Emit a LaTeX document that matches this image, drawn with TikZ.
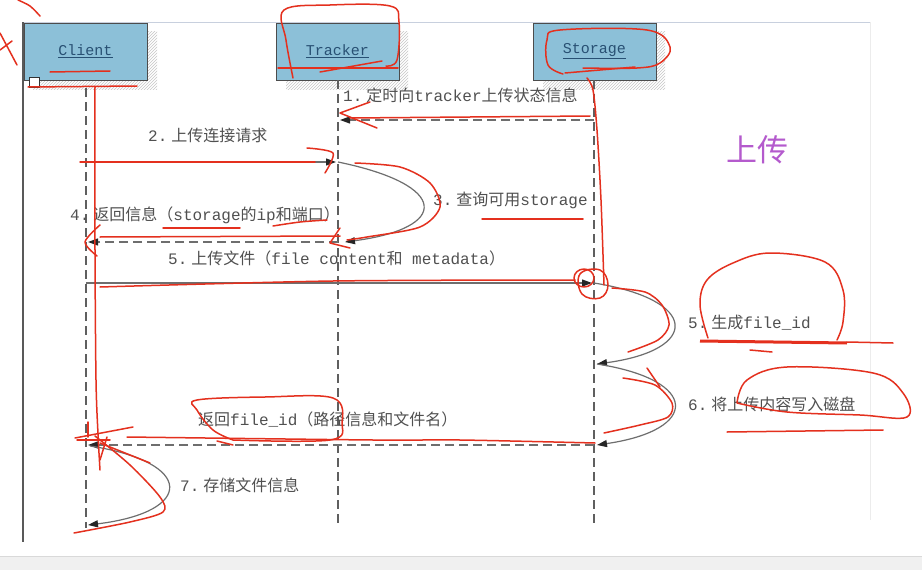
\documentclass[tikz,border=0pt]{standalone}
\usepackage{fontspec}
\setmainfont{Liberation Serif}
\newfontfamily\cjkfont{Noto Sans CJK SC}
\newfontfamily\monofont{Liberation Mono}
\newcommand\myzh[1]{{\cjkfont #1}}
\newcommand\myen[1]{{\monofont #1}}
\newcommand\mynum[1]{{\monofont #1.}\hspace{4pt}}
\usetikzlibrary{patterns,arrows.meta}
\definecolor{boxfill}{RGB}{140,192,216}
\definecolor{txtc}{RGB}{80,80,80}
\definecolor{lifec}{RGB}{95,95,95}
\definecolor{msgc}{RGB}{110,110,110}
\definecolor{redc}{RGB}{228,48,30}
\definecolor{purplec}{RGB}{180,90,205}
\definecolor{namec}{RGB}{40,80,115}
\definecolor{framec}{RGB}{200,208,222}
\tikzset{
  actor/.style={draw=black!70, line width=1pt, fill=boxfill, minimum width=123pt, minimum height=57pt, inner sep=0pt,
     font=\monofont\fontsize{15}{17}\selectfont, text=namec},
  shadowpat/.style={pattern=north east lines, pattern color=gray!45},
  lifeline/.style={draw=lifec, line width=1.4pt, dash pattern=on 9pt off 5pt},
  msgline/.style={draw=msgc, line width=1.2pt},
  retline/.style={draw=msgc, line width=1.2pt, dash pattern=on 9pt off 5pt},
  loopline/.style={draw=msgc, line width=1.2pt},
  tip/.style={-{Triangle[length=10pt,width=7pt,color=black!85]}},
  msg/.style={text=txtc, inner sep=0pt, font=\cjkfont\fontsize{16}{18}\selectfont},
  redpen/.style={draw=redc, line width=1.5pt, line cap=round, line join=round},
}
\begin{document}
\begin{tikzpicture}[x=1pt,y=-1pt]
\useasboundingbox (0,0) rectangle (922,570);
\fill[white] (0,0) rectangle (922,570);
% frame
\fill[gray!12] (0,556) rectangle (922,570);
\draw[gray!30, line width=0.8pt] (0,556) -- (922,556);
\draw[framec, line width=1pt] (22,22) -- (870,22);
\draw[gray!15, line width=0.8pt] (870,22) -- (870,520);
\draw[black!65, line width=1.2pt] (23,22) -- (23,542);
% shadows
\path[shadowpat] (33,31) rectangle (157,89);
\path[shadowpat] (286,31) rectangle (408,89);
\path[shadowpat] (543,31) rectangle (665,89);
% actors
\node[actor] (client) at (85.5,51.5) {\underline{Client}};
\node[actor] (tracker) at (337.5,51.5) {\underline{Tracker}};
\node[actor] (storage) at (594.5,51.5) {\underline{Storage}};
\node[draw=black!80, fill=white, line width=0.8pt, minimum size=10pt, inner sep=0pt] (sq) at (34,82) {};
% lifelines
\coordinate (ctop) at (86,88);
\coordinate (cend) at (86,528);
\coordinate (ttop) at (338,80);
\coordinate (tend) at (338,525);
\coordinate (stop) at (594,80);
\coordinate (send) at (594,525);
\draw[lifeline] (ctop) -- (cend);
\draw[lifeline] (ttop) -- (tend);
\draw[lifeline] (stop) -- (send);
% message points
\coordinate (s1) at (594,120); \coordinate (t1) at (340,120);
\coordinate (c2) at (86,162); \coordinate (t2) at (336,162);
\coordinate (t2b) at (338,162); \coordinate (t3) at (345,242);
\coordinate (t4) at (338,242); \coordinate (c4) at (88,242);
\coordinate (c5) at (86,283); \coordinate (s5) at (592,283);
\coordinate (s5b) at (594,283); \coordinate (s6) at (597,364);
\coordinate (s6b) at (597,364); \coordinate (s7) at (597,445);
\coordinate (s8) at (594,445); \coordinate (c8) at (88,445);
\coordinate (c9a) at (90,446); \coordinate (c9) at (88,525);
% messages
\draw[retline, tip] (s1) -- (t1);
\draw[msgline, tip] (c2) -- (t2);
\draw[loopline, tip] (t2b) .. controls (450,185) and (450,228) .. (t3);
\draw[retline, tip] (t4) -- (c4);
\draw[msgline, tip] (c5) -- (s5);
\draw[loopline, tip] (s5b) .. controls (700,300) and (700,350) .. (s6);
\draw[loopline, tip] (s6b) .. controls (700,380) and (700,430) .. (s7);
\draw[retline, tip] (s8) -- (c8);
\draw[loopline, tip] (c9a) .. controls (195,462) and (195,512) .. (c9);
% labels
\node[msg, anchor=west] (l1) at (343,95) {\mynum{1}定时向\myen{tracker}上传状态信息};
\node[msg, anchor=west] (l2) at (148,135) {\mynum{2}上传连接请求};
\node[msg, anchor=west] (l3) at (433,200) {\mynum{3}查询可用\myen{storage}};
\node[msg, anchor=west] (l4) at (70,215) {\mynum{4}返回信息（\myen{storage}的\myen{ip}和端口）};
\node[msg, anchor=west] (l5) at (168,258) {\mynum{5}上传文件（\myen{file content}和\myen{ metadata}）};
\node[msg, anchor=west] (l6) at (688,323) {\mynum{5}生成\myen{file\_id}};
\node[msg, anchor=west] (l7) at (688,404) {\mynum{6}将上传内容写入磁盘};
\node[msg, anchor=west] (l8) at (198,420) {返回\myen{file\_id}（路径信息和文件名）};
\node[msg, anchor=west] (l9) at (180,485) {\mynum{7}存储文件信息};
\node[text=purplec, inner sep=0pt, font=\cjkfont\fontsize{31}{33}\selectfont] (up) at (757,150) {上传};
% red annotations
\draw[redpen] plot[smooth] coordinates {(18,0) (30,6) (40,16)};
\draw[redpen] (0,33) -- (17,65);
\draw[redpen] (0,50) -- (12,41);
\draw[redpen] (50,72) -- (110,71);
\draw[redpen] (28,87) -- (137,86);
\draw[redpen] plot[smooth] coordinates {(95,87) (95,250) (96,380) (98,434) (100,470)};
% tracker
\draw[redpen] plot[smooth, tension=0.6] coordinates {(293,78) (286,40) (284,10) (330,5) (390,6) (399,22) (397,60) (386,66)};
\draw[redpen] (278,68) -- (398,68);
\draw[redpen] (320,72) -- (382,61);
% storage
\draw[redpen] plot[smooth, tension=0.6] coordinates {(583,68) (637,68) (660,63) (670,47) (647,30) (560,30) (547,40) (548,65) (563,74)};
\draw[redpen] (565,73) -- (635,67);
\draw[redpen] plot[smooth] coordinates {(587,78) (593,90) (597,130) (601,200) (604,285)};
% msg 1
\draw[redpen] (590,116) -- (350,118);
\draw[redpen] (370,102) -- (340,113) -- (377,128);
% msg 2
\draw[redpen] (80,162) -- (315,162);
\draw[redpen] plot[smooth] coordinates {(307,148) (333,153) (325,173)};
% loop 3
\draw[redpen] plot[smooth] coordinates {(355,163) (400,167) (430,183) (440,207) (420,227) (367,237) (347,240)};
\draw[redpen] (340,228) -- (330,243) -- (350,248);
\draw[redpen] (482,219) -- (583,219);
% msg 4
\draw[redpen] (163,228) -- (240,228);
\draw[redpen] plot[smooth] coordinates {(273,226) (300,222) (327,220)};
\draw[redpen] (100,237) -- (340,236);
\draw[redpen] plot[smooth] coordinates {(100,225) (85,242) (97,256)};
% msg 5
\draw[redpen] plot[smooth] coordinates {(100,287) (333,281) (575,280)};
\draw[redpen] (584,278) ellipse[x radius=10pt, y radius=9pt];
\draw[redpen] plot[smooth cycle, tension=0.7] coordinates {(580,274) (600,270) (608,285) (600,298) (582,294)};
% storage loops
\draw[redpen] plot[smooth] coordinates {(612,288) (645,292) (662,305) (669,325) (658,340) (628,352)};
\draw[redpen] plot[smooth, tension=0.6] coordinates {(708,338) (700,305) (707,280) (733,263) (770,253) (825,262) (843,290) (843,322) (837,340)};
\draw[redc, line width=3pt] (700,341) -- (847,343);
\draw[redpen] (847,342) -- (893,343);
\draw[redpen] (750,350) -- (772,352);
\draw[redpen] plot[smooth] coordinates {(623,378) (655,385) (672,403) (668,417) (640,425) (604,433)};
\draw[redpen] (647,368) -- (660,387);
\draw[redpen] plot[smooth, tension=0.6] coordinates {(737,403) (747,380) (787,367) (873,373) (903,393) (907,417) (860,415) (787,412) (737,403)};
\draw[redpen] (727,432) -- (883,430);
% return file_id
\draw[redpen] plot[smooth, tension=0.6] coordinates {(233,440) (213,430) (197,410) (197,400) (265,397) (333,398) (342,423) (330,440) (233,440)};
\draw[redpen] plot[smooth] coordinates {(127,437) (373,440) (460,440) (595,443)};
\draw[redpen] (217,441) -- (233,445);
% client cross and loop 7
\draw[redpen] (88,422) -- (88,437);
\draw[redpen] (75,438) -- (133,427);
\draw[redpen] (77,440) -- (110,440);
\draw[redpen] (100,460) -- (107,437);
\draw[redpen] (100,443) -- (150,463);
\draw[redpen] plot[smooth] coordinates {(95,436) (130,465) (160,497) (163,512) (130,522) (74,533)};
\end{tikzpicture}
\end{document}
